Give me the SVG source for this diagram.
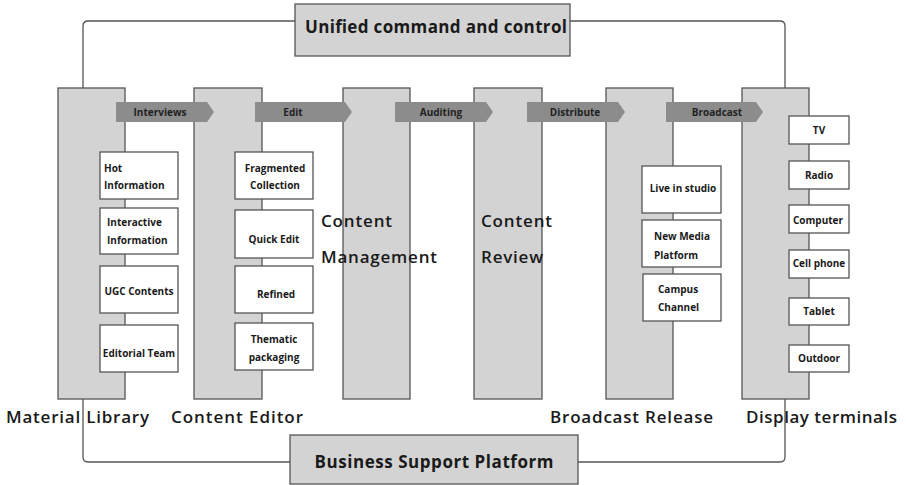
<svg xmlns="http://www.w3.org/2000/svg" width="906" height="485" viewBox="0 0 906 485">
<style>
.col{fill:#d3d3d3;stroke:#555;stroke-width:1.3}
.box{fill:#fff;stroke:#555;stroke-width:1.3}
.big{fill:#d3d3d3;stroke:#555;stroke-width:1.3}
.arr{fill:#8c8c8c}
.conn{fill:none;stroke:#555;stroke-width:1.3}
text{font-family:"Open Sans","Noto Sans","DejaVu Sans",sans-serif;fill:#1a1a1a}
.s{font-size:10px;font-weight:bold;text-anchor:middle}
.a{font-size:10px;font-weight:bold;text-anchor:middle;fill:#222}
.l{font-size:17px;font-weight:600}
.t{font-size:17px;font-weight:bold;text-anchor:middle}
</style>
<rect width="906" height="485" fill="#fff"/>
<g id="connectors">
<path class="conn" d="M83,88 V26 Q83,21 88,21 H295"/>
<path class="conn" d="M570,21 H780 Q785,21 785,26 V88"/>
<path class="conn" d="M83,399 V457 Q83,462 88,462 H290"/>
<path class="conn" d="M578,462 H780 Q785,462 785,457 V399"/>
</g>
<g id="unified"><rect class="big" x="295" y="4" width="275" height="52"/><text class="t" x="436" y="33" textLength="262" lengthAdjust="spacing">Unified command and control</text></g>
<g id="business"><rect class="big" x="290" y="435" width="288" height="49"/><text class="t" x="434" y="468" textLength="239" lengthAdjust="spacing">Business Support Platform</text></g>
<g id="col-material"><rect class="col" x="58" y="88" width="67" height="311"/><text class="l" x="6" y="423" textLength="143" lengthAdjust="spacing">Material Library</text></g>
<g id="col-editor"><rect class="col" x="194" y="88" width="68" height="311"/><text class="l" x="171" y="423" textLength="132" lengthAdjust="spacing">Content Editor</text></g>
<g id="col-management"><rect class="col" x="343" y="88" width="67" height="311"/></g>
<g id="col-review"><rect class="col" x="474" y="88" width="68" height="311"/></g>
<g id="col-release"><rect class="col" x="606" y="88" width="67" height="311"/><text class="l" x="550" y="423" textLength="163" lengthAdjust="spacing">Broadcast Release</text></g>
<g id="col-display"><rect class="col" x="742" y="88" width="67" height="311"/><text class="l" x="746" y="423" textLength="151" lengthAdjust="spacing">Display terminals</text></g>
<g id="arrows">
<g id="arr-interviews"><polygon class="arr" points="116,102 207,102 214,112 207,122 116,122"/><text class="a" x="160" y="116">Interviews</text></g>
<g id="arr-edit"><polygon class="arr" points="255,102 345,102 352,112 345,122 255,122"/><text class="a" x="293" y="116">Edit</text></g>
<g id="arr-auditing"><polygon class="arr" points="395,102 486,102 493,112 486,122 395,122"/><text class="a" x="441" y="116">Auditing</text></g>
<g id="arr-distribute"><polygon class="arr" points="527,102 618,102 625,112 618,122 527,122"/><text class="a" x="575" y="116">Distribute</text></g>
<g id="arr-broadcast"><polygon class="arr" points="666,102 756,102 763,112 756,122 666,122"/><text class="a" x="717" y="116">Broadcast</text></g>
</g>
<g id="cm-label"><text class="l" x="321" y="227" textLength="71" lengthAdjust="spacing">Content</text><text class="l" x="321" y="263" textLength="116" lengthAdjust="spacing">Management</text></g>
<g id="cr-label"><text class="l" x="481" y="227" textLength="71" lengthAdjust="spacing">Content</text><text class="l" x="481" y="263" textLength="62" lengthAdjust="spacing">Review</text></g>
<g id="hot"><rect class="box" x="100" y="152" width="78" height="47"/><text class="s" x="104" y="172" style="text-anchor:start">Hot</text><text class="s" x="104" y="189" style="text-anchor:start">Information</text></g>
<g id="interactive"><rect class="box" x="100" y="208" width="78" height="46"/><text class="s" x="107" y="226" style="text-anchor:start">Interactive</text><text class="s" x="107" y="244" style="text-anchor:start">Information</text></g>
<g id="ugc"><rect class="box" x="100" y="266" width="78" height="47"/><text class="s" x="139" y="295">UGC Contents</text></g>
<g id="editorial"><rect class="box" x="100" y="325" width="78" height="47"/><text class="s" x="139" y="357">Editorial Team</text></g>
<g id="fragmented"><rect class="box" x="235" y="152" width="78" height="47"/><text class="s" x="275" y="172">Fragmented</text><text class="s" x="275" y="189">Collection</text></g>
<g id="quick"><rect class="box" x="235" y="210" width="78" height="48"/><text class="s" x="274" y="243">Quick Edit</text></g>
<g id="refined"><rect class="box" x="235" y="266" width="78" height="47"/><text class="s" x="276" y="298">Refined</text></g>
<g id="thematic"><rect class="box" x="235" y="323" width="78" height="47"/><text class="s" x="274" y="343">Thematic</text><text class="s" x="274" y="361">packaging</text></g>
<g id="live"><rect class="box" x="642" y="166" width="79" height="47"/><text class="s" x="683" y="192">Live in studio</text></g>
<g id="newmedia"><rect class="box" x="642" y="220" width="79" height="47"/><text class="s" x="654" y="240" style="text-anchor:start">New Media</text><text class="s" x="654" y="259" style="text-anchor:start">Platform</text></g>
<g id="campus"><rect class="box" x="643" y="274" width="78" height="47"/><text class="s" x="658" y="293" style="text-anchor:start">Campus</text><text class="s" x="658" y="311" style="text-anchor:start">Channel</text></g>
<g id="tv"><rect class="box" x="789" y="116" width="60" height="28"/><text class="s" x="819" y="134">TV</text></g>
<g id="radio"><rect class="box" x="789" y="161" width="60" height="28"/><text class="s" x="819" y="179">Radio</text></g>
<g id="computer"><rect class="box" x="789" y="205" width="60" height="28"/><text class="s" x="818" y="224">Computer</text></g>
<g id="cellphone"><rect class="box" x="789" y="250" width="60" height="28"/><text class="s" x="819" y="267">Cell phone</text></g>
<g id="tablet"><rect class="box" x="789" y="298" width="60" height="27"/><text class="s" x="819" y="315">Tablet</text></g>
<g id="outdoor"><rect class="box" x="789" y="345" width="60" height="27"/><text class="s" x="819" y="362">Outdoor</text></g>
</svg>
